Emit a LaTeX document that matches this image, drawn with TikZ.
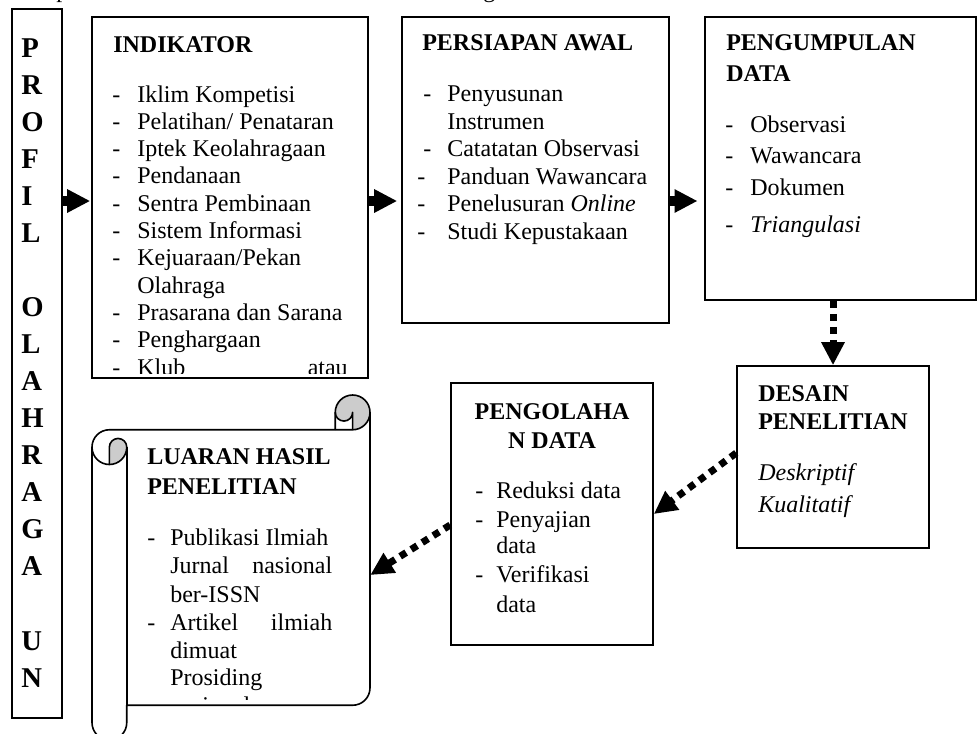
\documentclass[tikz,border=0pt]{standalone}
\usepackage{fontspec}
\setmainfont{Liberation Serif}
\usetikzlibrary{arrows.meta,calc,fit}
\begin{document}
\begin{tikzpicture}[x=0.75pt,y=-0.75pt,
  box/.style={draw,line width=1.2pt,inner sep=0pt},
  txt/.style={anchor=base west,inner sep=0pt,font=\fontsize{18}{22}\selectfont},
  hd/.style={txt,font=\fontsize{18}{22}\selectfont\bfseries},
  itx/.style={txt,font=\fontsize{18}{22}\selectfont\itshape},
  blk/.style={line width=7pt,-{Triangle[length=17.25pt,width=16.5pt]}},
  dots/.style={line width=5.25pt,dash pattern=on 5.25pt off 4.5pt,-{Triangle[length=17.25pt,width=16.5pt]}},
  roll/.style={line width=1.2pt,line join=round},
  shade/.style={fill=gray!40}]
\useasboundingbox (0,0) rectangle (978,733);
\clip (0,0) rectangle (978,733);

% fragments of the text line above
\node[txt] (capp) at (56,-2.5) {p};
\node[txt] (capg) at (483,-2.5) {g};

% box frames
\coordinate (pa) at (12,9);   \coordinate (pb) at (62,718);
\coordinate (ia) at (92,17);  \coordinate (ib) at (368,378);
\coordinate (sa) at (402,17); \coordinate (sb) at (669,323);
\coordinate (ga) at (705,17); \coordinate (gb) at (976,300);
\coordinate (da) at (737,366); \coordinate (db) at (929,548);
\coordinate (oa) at (451,383); \coordinate (ob) at (653,645);
\coordinate (la) at (92,395); \coordinate (lb) at (370,740);
\node[box,fit=(pa)(pb)] (profil) {};
\node[box,fit=(ia)(ib)] (indik) {};
\node[box,fit=(sa)(sb)] (persiap) {};
\node[box,fit=(ga)(gb)] (pengump) {};
\node[box,fit=(da)(db)] (desain) {};
\node[box,fit=(oa)(ob)] (pengolah) {};
\node[inner sep=0pt,fit=(la)(lb)] (luaran) {};

% vertical title
\node[anchor=base west,inner sep=0pt,font=\fontsize{21.5}{27.8}\selectfont\bfseries] (profiltxt) at (21,57)
  {\begin{tabular}[t]{@{}l@{}}P\\R\\O\\F\\I\\L\\ \\O\\L\\A\\H\\R\\A\\G\\A\\ \\U\\N\end{tabular}};

% INDIKATOR
\node[hd] (indh) at (113,52) {INDIKATOR};
\begin{scope}
\clip (92,17) rectangle (368,373);
\foreach \itm [count=\i] in {Iklim Kompetisi,Pelatihan/ Penataran,Iptek Keolahragaan,Pendanaan,Sentra Pembinaan,Sistem Informasi,Kejuaraan/Pekan,Olahraga,Prasarana dan Sarana,Penghargaan,Klub}
  \node[txt] (ind\i) at (137,{102+27.33*(\i-1)}) {\itm};
\foreach \i in {1,2,3,4,5,6,7,9,10,11}
  \node[txt] (indd\i) at (112,{102+27.33*(\i-1)}) {-};
\node[txt,anchor=base east] (indatau) at (348,375.3) {atau};
\end{scope}

% PERSIAPAN AWAL
\node[hd] (perh) at (422,50) {PERSIAPAN AWAL};
\foreach \itm [count=\i] in {Penyusunan,Instrumen,Catatatan Observasi,Panduan Wawancara,Penelusuran \textit{Online},Studi Kepustakaan}
  \node[txt] (per\i) at (447,{101.7+27.46*(\i-1)}) {\itm};
\node[txt] (perd1) at (423,101.7) {-};
\node[txt] (perd3) at (423,156.6) {-};
\node[txt] (perd4) at (417,184.1) {-};
\node[txt] (perd5) at (417,211.5) {-};
\node[txt] (perd6) at (417,239) {-};

% PENGUMPULAN DATA
\node[hd] (pgh1) at (726,50) {PENGUMPULAN};
\node[hd] (pgh2) at (726,81) {DATA};
\node[txt] (pg1) at (750,132) {Observasi};
\node[txt] (pg2) at (750,163) {Wawancara};
\node[txt] (pg3) at (750,195) {Dokumen};
\node[itx] (pg4) at (750,232.5) {Triangulasi};
\foreach \yy [count=\i] in {132,163,195,232.5}
  \node[txt] (pgd\i) at (725,\yy) {-};

% DESAIN PENELITIAN
\node[hd] (dsh1) at (758,401) {DESAIN};
\node[hd] (dsh2) at (758,429) {PENELITIAN};
\node[itx] (ds1) at (758,480) {Deskriptif};
\node[itx] (ds2) at (758,512) {Kualitatif};

% PENGOLAHAN DATA
\node[hd,anchor=base] (poh1) at (552,419) {PENGOLAHA};
\node[hd,anchor=base] (poh2) at (552,448) {N DATA};
\node[txt] (po1) at (496,498) {Reduksi data};
\node[txt] (po2) at (496,527) {Penyajian};
\node[txt] (po3) at (496,553) {data};
\node[txt] (po4) at (496,582) {Verifikasi};
\node[txt] (po5) at (496,612) {data};
\node[txt] (pod1) at (475,498) {-};
\node[txt] (pod2) at (475,527) {-};
\node[txt] (pod4) at (475,582) {-};

% scroll shape (LUARAN HASIL PENELITIAN)
\fill[shade] (109.375,464.5) arc[start angle=90,delta angle=-90,radius=17.375]
  arc[start angle=0,delta angle=-180,radius=8.6875] -- cycle;
\fill[shade] (352.625,429.75) arc[start angle=90,delta angle=-270,radius=17.375]
  arc[start angle=180,delta angle=-180,radius=8.6875] -- cycle;
\draw[roll] (92,447.125) arc[start angle=180,delta angle=90,radius=17.375]
  -- (335.25,429.75) -- (335.25,412.375) arc[start angle=180,delta angle=180,radius=17.375]
  -- (370,687.875) arc[start angle=0,delta angle=90,radius=17.375]
  -- (126.75,705.25) -- (126.75,722.625) arc[start angle=0,delta angle=180,radius=17.375] -- cycle;
\draw[roll] (335.25,429.75) -- (352.625,429.75) arc[start angle=90,delta angle=-90,radius=17.375];
\draw[roll] (352.625,429.75) -- (352.625,412.375) arc[start angle=0,delta angle=180,radius=8.6875];
\draw[roll] (109.375,464.5) -- (109.375,447.125) arc[start angle=180,delta angle=180,radius=8.6875]
  arc[start angle=0,delta angle=180,radius=17.375];
\draw[roll] (126.75,447.125) -- (126.75,705.25);

\node[hd] (luh1) at (147,464) {LUARAN HASIL};
\node[hd] (luh2) at (147,494) {PENELITIAN};
\begin{scope}
\clip (127,430) rectangle (370,699);
\node[txt] (lu1) at (170,545) {Publikasi Ilmiah};
\node[txt] (lu2) at (170,573) {\hbox to 121.5pt{Jurnal\hfill nasional}};
\node[txt] (lu3) at (170,602) {ber-ISSN};
\node[txt] (lu4) at (170,630) {\hbox to 121.5pt{Artikel\hfill ilmiah}};
\node[txt] (lu5) at (170,658) {dimuat};
\node[txt] (lu6) at (170,685) {Prosiding};
\node[txt] (lu7) at (170,713) {nasional};
\node[txt] (lud1) at (147,545) {-};
\node[txt] (lud4) at (147,630) {-};
\end{scope}

% connectors
\coordinate (row) at (0,201);
\draw[blk,shorten >=0.75pt] (profil.east |- row) -- (indik.west |- row);
\draw[blk,shorten >=3pt] (indik.east |- row) -- (persiap.west |- row);
\draw[blk,shorten >=5pt] (persiap.east |- row) -- (pengump.west |- row);
\draw[dots] (desain.north |- pengump.south) -- (desain.north);
\draw[dots] ($(desain.west)+(0,-4)$) -- (pengolah.east);
\draw[dots] ($(pengolah.west)+(0,11)$) -- ($(luaran.east)+(0,7.5)$);
\end{tikzpicture}
\end{document}
